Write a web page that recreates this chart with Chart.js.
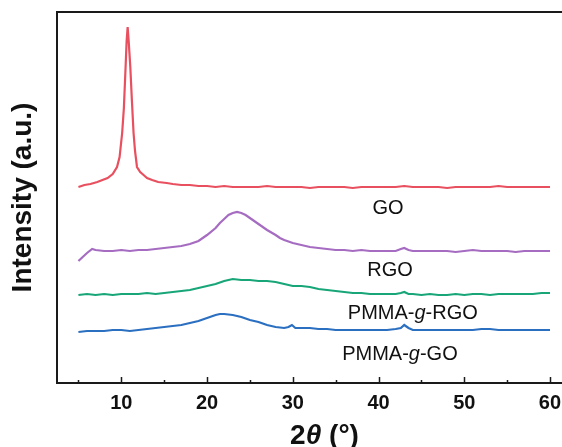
<!DOCTYPE html>
<html>
<head>
<meta charset="utf-8">
<script src="https://cdn.jsdelivr.net/npm/chart.js@4"></script>
<style>
  body { margin: 0; background: #fff; }
  canvas { display: block; }
</style>
</head>
<body>
<canvas id="xrd" width="562" height="447"></canvas>
<script>
// tick values on the 2theta axis
const xTicks = [10, 20, 30, 40, 50, 60];
const minorTicks = [5, 15, 25, 35, 45, 55];

// GO (red), intensity in arbitrary units
const goX = [5, 5.7, 6.4, 7.2, 7.8, 8.4, 9, 9.5, 9.8, 10.1, 10.3, 10.5, 10.62, 10.74, 10.86, 11.05, 11.25, 11.43, 11.6, 11.83, 12.2, 12.6, 13, 13.6, 14.3, 15.3, 16, 17, 18, 19, 20, 21, 22, 23, 24, 25, 26, 27, 28, 29, 30, 31, 32, 33, 34, 35, 36, 37, 38, 39, 40, 41, 42, 43, 44, 45, 46, 47, 48, 49, 50, 51, 52, 53, 54, 55, 56, 57, 58, 59, 60];
const goY = [196, 198, 199, 201, 203, 205, 209, 216, 226, 250, 275, 316, 342, 356, 342, 316, 280, 250, 232, 216, 211, 208, 205, 203, 201, 200, 199, 198, 198, 197, 197, 196, 197, 196, 196, 196, 196, 197, 196, 196, 196, 196, 195, 196, 196, 196, 196, 195, 196, 196, 196, 196, 196, 197, 196, 196, 196, 196, 195, 196, 196, 196, 196, 196, 197, 196, 196, 196, 196, 196, 196];

// RGO (purple)
const rgoX = [5, 5.5, 6, 6.6, 7, 8, 9, 10, 11, 12, 13, 14, 15, 16, 17, 18, 19, 20, 21, 21.5, 22, 22.5, 23, 23.5, 24, 24.5, 25, 26, 27, 28, 28.5, 29, 30, 31, 32, 33, 34, 35, 36, 37, 38, 39, 40, 41, 42, 42.6, 43, 43.5, 44, 45, 46, 47, 48, 49, 50, 51, 52, 53, 54, 55, 56, 57, 58, 59, 60];
const rgoY = [122, 126, 130, 134, 133, 132, 132, 133, 132, 133, 133, 134, 135, 136, 137, 139, 142, 148, 155, 160, 164, 168, 170, 171, 170, 168, 165, 159, 153, 148, 145, 143, 140, 138, 136, 135, 134, 133, 133, 132, 133, 132, 132, 132, 132, 134, 135, 133, 132, 132, 132, 132, 132, 131, 132, 133, 132, 132, 132, 132, 131, 132, 132, 132, 132];

// PMMA-g-RGO (green)
const prgoX = [5, 6, 7, 8, 9, 10, 11, 12, 13, 14, 15, 16, 17, 18, 19, 20, 21, 22, 23, 24, 25, 26, 27, 28, 29, 30, 31, 32, 33, 34, 35, 36, 37, 38, 39, 40, 41, 42, 42.6, 43, 43.5, 44, 45, 46, 47, 48, 49, 50, 51, 52, 53, 54, 55, 56, 57, 58, 59, 60];
const prgoY = [88, 89, 88, 89, 88, 89, 89, 89, 90, 89, 90, 91, 92, 93, 95, 97, 99, 102, 104, 103, 103, 102, 102, 101, 99, 97, 97, 96, 94, 93, 92, 91, 90, 90, 89, 89, 89, 89, 90, 91, 89, 89, 88, 89, 88, 88, 89, 88, 89, 89, 88, 89, 89, 89, 89, 89, 90, 90];

// PMMA-g-GO (blue)
const pgoX = [5, 6, 7, 8, 9, 10, 11, 12, 13, 14, 15, 16, 17, 18, 19, 20, 21, 21.5, 22, 23, 24, 25, 26, 27, 28, 29, 29.5, 29.9, 30.3, 31, 32, 33, 34, 35, 36, 37, 38, 39, 40, 41, 42, 42.6, 43, 43.5, 44, 45, 46, 47, 48, 49, 50, 51, 52, 53, 54, 55, 56, 57, 58, 59, 60];
const pgoY = [51, 52, 52, 52, 53, 53, 52, 53, 54, 55, 56, 57, 58, 60, 62, 65, 68, 69, 69, 68, 66, 63, 61, 58, 56, 55, 56, 58, 55, 55, 55, 54, 54, 53, 53, 53, 53, 53, 53, 53, 54, 55, 58, 55, 53, 53, 53, 53, 53, 53, 53, 53, 54, 54, 53, 53, 53, 53, 53, 53, 53];

const seriesNames = ['GO', 'RGO', 'PMMA-g-RGO', 'PMMA-g-GO'];
const seriesColors = ['#e8505f', '#a56cc1', '#18a679', '#2b6fc0'];

const FONT = '"Liberation Sans", Arial, sans-serif';

function pts(xs, ys) {
  return xs.map((x, i) => ({ x: x, y: ys[i] }));
}

// draws text made of parts with different fonts, centred on cx
function drawParts(ctx, parts, cx, cy) {
  let total = 0;
  parts.forEach(p => { ctx.font = p[1]; total += ctx.measureText(p[0]).width; });
  let x = cx - total / 2;
  ctx.textAlign = 'left';
  ctx.textBaseline = 'middle';
  parts.forEach(p => {
    ctx.font = p[1];
    ctx.fillText(p[0], x, cy);
    x += ctx.measureText(p[0]).width;
  });
}

const decor = {
  id: 'decor',
  afterDraw(chart) {
    const ctx = chart.ctx;
    const area = chart.chartArea;
    const xs = chart.scales.x;
    const ys = chart.scales.y;
    ctx.save();
    ctx.strokeStyle = '#1a1a1a';
    ctx.lineWidth = 2;
    // frame top and left
    ctx.beginPath();
    ctx.moveTo(area.left, area.bottom);
    ctx.lineTo(area.left, area.top);
    ctx.lineTo(chart.width, area.top);
    ctx.stroke();
    // inward ticks
    ctx.lineWidth = 1.5;
    xTicks.concat(minorTicks).forEach(v => {
      const px = Math.round(xs.getPixelForValue(v)) + 0.5;
      const len = xTicks.includes(v) ? 6 : 3;
      ctx.beginPath();
      ctx.moveTo(px, area.bottom);
      ctx.lineTo(px, area.bottom - len);
      ctx.stroke();
    });

    ctx.fillStyle = '#111';
    // curve labels
    const reg = '20px ' + FONT;
    const ita = 'italic 20px ' + FONT;
    drawParts(ctx, [['GO', reg]], xs.getPixelForValue(41.1), ys.getPixelForValue(175));
    drawParts(ctx, [['RGO', reg]], xs.getPixelForValue(41.35), ys.getPixelForValue(113));
    drawParts(ctx, [['PMMA-', reg], ['g', ita], ['-RGO', reg]], xs.getPixelForValue(44), ys.getPixelForValue(70));
    drawParts(ctx, [['PMMA-', reg], ['g', ita], ['-GO', reg]], xs.getPixelForValue(42.5), ys.getPixelForValue(29));

    // axis titles
    const bold = 'bold 28px ' + FONT;
    drawParts(ctx, [['2', bold], ['\u03b8', 'italic bold 28px ' + FONT], [' (\u00b0)', bold]],
      xs.getPixelForValue(33.7), 436);
    ctx.translate(23, (area.top + area.bottom) / 2);
    ctx.rotate(-Math.PI / 2);
    drawParts(ctx, [['Intensity (a.u.)', bold]], 0, 0);
    ctx.restore();
  }
};

new Chart(document.getElementById('xrd'), {
  type: 'line',
  data: {
    datasets: [
      { label: seriesNames[0], data: pts(goX, goY) },
      { label: seriesNames[1], data: pts(rgoX, rgoY) },
      { label: seriesNames[2], data: pts(prgoX, prgoY) },
      { label: seriesNames[3], data: pts(pgoX, pgoY) }
    ].map((d, i) => Object.assign(d, {
      borderColor: seriesColors[i],
      borderWidth: 2.2,
      pointRadius: 0,
      tension: 0,
      fill: false
    }))
  },
  options: {
    responsive: false,
    animation: false,
    devicePixelRatio: 1,
    layout: { padding: { left: 57, top: 12, right: 0, bottom: 0 } },
    plugins: { legend: { display: false }, tooltip: { enabled: false } },
    scales: {
      x: {
        type: 'linear',
        min: 2.5,
        max: 61.4,
        afterBuildTicks: s => { s.ticks = xTicks.map(v => ({ value: v })); },
        afterFit: s => { s.height = 64; s.paddingLeft = 0; s.paddingRight = 0; },
        grid: { display: false, drawTicks: false },
        border: { display: true, color: '#1a1a1a', width: 2 },
        ticks: {
          color: '#111',
          padding: 8,
          maxRotation: 0,
          autoSkip: false,
          font: { family: FONT, size: 20, weight: 'bold' }
        }
      },
      y: {
        min: 0,
        max: 371,
        afterFit: s => { s.width = 0; },
        grid: { display: false, drawTicks: false },
        border: { display: false },
        ticks: { display: false }
      }
    }
  },
  plugins: [decor]
});
</script>
</body>
</html>
